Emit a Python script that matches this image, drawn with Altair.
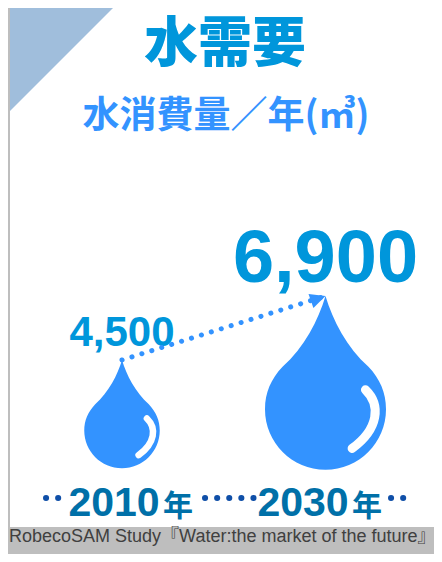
import altair as alt
import pandas as pd

years = [2010, 2030]
values = [4500, 6900]
value_labels = ["4,500", "6,900"]
title_text = "水需要"
subtitle_text = "水消費量／年(㎥)"
source_text = "RobecoSAM Study『Water:the market of the future』"

SANS = "Liberation Sans, Arial, Noto Sans CJK JP"
CJK = "Noto Sans CJK JP"
BLUE = "#3393ff"
TITLE_BLUE = "#0096db"
YEAR_BLUE = "#0070a8"
DOT_BLUE = "#0f4fa8"

DROP = ("M0 0 C0.12 0.4 0.35 0.85 0.71 1.17 C0.9 1.37 1 1.6 1 1.87 "
        "A1 1 0 0 1 -1 1.87 C-1 1.6 -0.9 1.37 -0.71 1.17 "
        "C-0.35 0.85 -0.12 0.4 0 0 Z")
SHINE = "M0.66 1.55 C0.92 1.8 0.88 2.2 0.44 2.52"
HEAD = "M0 0 L-1 -0.12 L-0.71 0.71 Z"
CORNER = "M-1 -1 L1 -1 L-1 1 Z"

df = pd.DataFrame({"year": years, "value": values, "label": value_labels})
base = alt.Chart(df)

X = alt.X("year:Q", axis=None, scale=alt.Scale(domain=years, range=[114, 317.5]))
Y = alt.Y("value:Q", axis=None, scale=alt.Scale(domain=values, range=[352, 288]))


def page_x(v):
    return alt.value(v - 8)


def page_y(v):
    return alt.value(v - 8)


def text(content, x, y, size, color, font=SANS, weight="bold", align="center"):
    return alt.Chart(pd.DataFrame({"t": [content]})).mark_text(
        font=font, fontSize=size, fontWeight=weight, color=color, align=align, baseline="alphabetic"
    ).encode(text="t:N", x=page_x(x), y=page_y(y))


def dots(x1, x2):
    return alt.Chart(pd.DataFrame({"a": [0]})).mark_rule(
        color=DOT_BLUE, strokeWidth=6, strokeCap="round", strokeDash=[0.1, 12]
    ).encode(x=page_x(x1), x2=page_x(x2), y=page_y(498))


panel = alt.Chart(pd.DataFrame({"a": [0]})).mark_rect(color="white").encode(
    x=page_x(10), x2=page_x(441), y=page_y(5), y2=page_y(527)
)
corner = alt.Chart(pd.DataFrame({"a": [0]})).mark_point(
    shape=CORNER, filled=True, color="#a0bedc", opacity=1, size=11236
).encode(x=page_x(63), y=page_y(58))

drop = base.mark_point(shape=DROP, filled=True, color=BLUE, opacity=1).encode(
    x=X, y=Y,
    size=alt.Size("value:Q", legend=None, scale=alt.Scale(domain=values, range=[5700, 14641])),
)
shine = base.mark_point(shape=SHINE, filled=False, color="white", opacity=1, strokeCap="round").encode(
    x=X, y=Y,
    size=alt.Size("value:Q", legend=None, scale=alt.Scale(domain=values, range=[5700, 14641])),
    strokeWidth=alt.StrokeWidth("value:Q", legend=None, scale=alt.Scale(domain=values, range=[6.5, 9])),
)
line = base.mark_line(color=BLUE, strokeWidth=5, strokeCap="round", strokeDash=[0.1, 10.3]).encode(
    x=X, y=Y, order="year:Q"
)
head = base.transform_filter(alt.datum.year == 2030).mark_point(
    shape=HEAD, filled=True, color=BLUE, opacity=1, size=1156
).encode(x=X, y=Y)
labels = base.mark_text(font=SANS, fontWeight="bold", color=TITLE_BLUE, baseline="alphabetic", dy=-14).encode(
    x=X, y=Y, text="label:N",
    size=alt.Size("value:Q", legend=None, scale=alt.Scale(domain=values, range=[42, 74])),
)

chart = alt.layer(
    panel, corner,
    text(title_text, 225, 62, 54, TITLE_BLUE, font=CJK, weight=900),
    text(subtitle_text, 226, 128, 37, BLUE, font=CJK),
    drop, shine, labels, line, head,
    dots(46, 60), dots(205, 256), dots(391, 405),
    text("2010", 114, 516, 41, YEAR_BLUE),
    text("年", 178, 516, 30, YEAR_BLUE, font=CJK),
    text("2030", 303, 516, 41, YEAR_BLUE),
    text("年", 367, 516, 30, YEAR_BLUE, font=CJK),
    text(source_text, 9, 542, 18, "#404040", weight="normal", align="left"),
).resolve_scale(size="independent").properties(
    width=426, height=546, padding=0, background="#bebebe",
    autosize=alt.AutoSizeParams(type="none"),
).configure_view(stroke=None)

chart.save("out.html", embed_options={"renderer": "svg", "actions": False})
